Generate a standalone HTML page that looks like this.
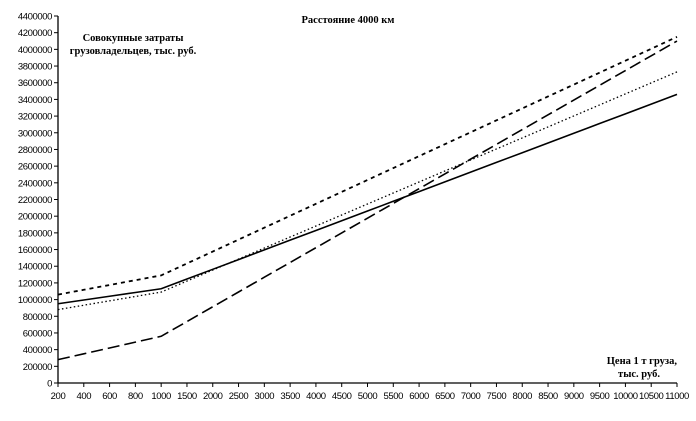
<!DOCTYPE html>
<html><head><meta charset="utf-8"><style>
body{margin:0;background:#fff}
svg text{font-family:"Liberation Sans",sans-serif;font-size:9.5px;fill:#000;letter-spacing:-0.4px}
svg text.b{font-family:"Liberation Serif",serif;font-weight:bold;font-size:10.5px;letter-spacing:0}
</style></head><body>
<svg width="696" height="416" xmlns="http://www.w3.org/2000/svg">
<g id="ax" stroke="#000" stroke-width="1.3" fill="none">
<line x1="58" y1="16" x2="58" y2="383"/>
<line x1="58" y1="383" x2="677" y2="383"/>
</g>
<g id="yt"></g>
<g id="xt"></g>
<g id="ser" fill="none" stroke="#000"></g>
<text class="b" x="348" y="23" text-anchor="middle">Расстояние 4000 км</text>
<text class="b" x="133" y="41" text-anchor="middle">Совокупные затраты</text>
<text class="b" x="133" y="54" text-anchor="middle">грузовладельцев, тыс. руб.</text>
<text class="b" x="677" y="364" text-anchor="end">Цена 1 т груза,</text>
<text class="b" x="660" y="377" text-anchor="end">тыс. руб.</text>
</svg>
<script>
var ns="http://www.w3.org/2000/svg";
function Y(v){return 383-v/4400000*367}
function X(i){return 58+i*619/24}
var yt=document.getElementById('yt'),xt=document.getElementById('xt'),s=document.getElementById('ser');
function el(p,t,a){var e=document.createElementNS(ns,t);for(var k in a)e.setAttribute(k,a[k]);p.appendChild(e);return e}
for(var v=0;v<=4400000;v+=200000){var y=Y(v);el(yt,'line',{x1:54,x2:58,y1:y,y2:y,stroke:'#000'});var t=el(yt,'text',{x:52,y:y+3.5,'text-anchor':'end'});t.textContent=v;}
var cats=[200,400,600,800,1000];for(var c=1500;c<=11000;c+=500)cats.push(c);
cats.forEach(function(c,i){var x=X(i);el(xt,'line',{x1:x,x2:x,y1:383,y2:387,stroke:'#000'});var t=el(xt,'text',{x:x,y:399,'text-anchor':'middle'});t.textContent=c;});
function ser(a,b,c,style){var pts=[];for(var i=0;i<25;i++){var v=i<=4?a+(b-a)*i/4:b+(c-b)*(i-4)/20;pts.push(X(i)+','+Y(v));}
var o={points:pts.join(' ')};for(var k in style)o[k]=style[k];el(s,'polyline',o);}
ser(950000,1130000,3460000,{'stroke-width':1.6});
ser(880000,1090000,3730000,{'stroke-width':1.3,'stroke-dasharray':'1.5 2.5'});
ser(1060000,1290000,4150000,{'stroke-width':1.8,'stroke-dasharray':'4 4'});
ser(280000,560000,4100000,{'stroke-width':1.6,'stroke-dasharray':'12 5'});
</script>
</body></html>
